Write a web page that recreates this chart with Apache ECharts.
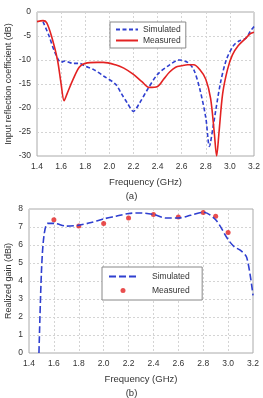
<!DOCTYPE html>
<html>
<head>
<meta charset="utf-8">
<script src="https://cdn.jsdelivr.net/npm/echarts@6/dist/echarts.min.js"></script>
<style>
  html, body { margin: 0; padding: 0; background: #fff; }
  #chart { width: 263px; height: 398px; }
</style>
</head>
<body>
<div id="chart"></div>
<script>
// (a) input reflection coefficient, [GHz, dB]
const s11Simulated = [
  [1.45, -2], [1.5, -5], [1.55, -8.5], [1.6, -10.5], [1.63, -10.2], [1.7, -10.7], [1.75, -10.7],
  [1.8, -11.3], [1.87, -12], [1.95, -13.3], [2.05, -15], [2.1, -17], [2.15, -19], [2.2, -20.7],
  [2.25, -19], [2.32, -16], [2.4, -13], [2.5, -11], [2.58, -10], [2.65, -10.5], [2.7, -12],
  [2.75, -16], [2.8, -22], [2.83, -28], [2.86, -24], [2.92, -15], [2.97, -10], [3.03, -7],
  [3.08, -6], [3.13, -5.5], [3.17, -4], [3.2, -3]
];
const s11Measured = [
  [1.4, -2], [1.45, -1.8], [1.48, -2.2], [1.52, -5], [1.57, -10], [1.6, -15], [1.625, -18.5],
  [1.65, -17], [1.7, -14], [1.75, -11.5], [1.8, -10.7], [1.9, -10.5], [1.95, -10.5], [2.05, -11],
  [2.12, -11.7], [2.2, -13], [2.27, -14.5], [2.33, -15.7], [2.4, -15.5], [2.45, -14], [2.5, -12.5],
  [2.55, -11.5], [2.6, -11.2], [2.65, -11], [2.7, -11], [2.75, -12], [2.8, -14], [2.84, -18],
  [2.87, -25], [2.89, -30], [2.91, -25], [2.94, -17], [2.98, -12], [3.02, -9], [3.07, -7],
  [3.13, -5.5], [3.17, -4.5], [3.2, -4.2]
];
// (b) realized gain, [GHz, dBi]
const gainSimulated = [
  [1.48, 0], [1.5, 4.5], [1.52, 6.5], [1.55, 7.2], [1.6, 7.2], [1.7, 7.05], [1.8, 7.1],
  [1.9, 7.25], [2.0, 7.45], [2.1, 7.6], [2.2, 7.75], [2.3, 7.78], [2.4, 7.7], [2.5, 7.5],
  [2.6, 7.5], [2.7, 7.65], [2.8, 7.82], [2.9, 7.4], [3.0, 6.3], [3.05, 5.9], [3.1, 5.7],
  [3.15, 5.3], [3.2, 3.2]
];
const gainMeasured = [
  [1.6, 7.4], [1.8, 7.05], [2.0, 7.2], [2.2, 7.5], [2.4, 7.7], [2.6, 7.55], [2.8, 7.8],
  [2.9, 7.6], [3.0, 6.7]
];

const font = 'Liberation Sans';
const blue = '#2f3fd0';
const red = '#e32222';
const textColor = '#333';

function xAxis(gridIndex) {
  return {
    type: 'value', gridIndex: gridIndex, min: 1.4, max: 3.2, interval: 0.2,
    name: 'Frequency (GHz)', nameLocation: 'middle', nameGap: 21, nameMoveOverlap: false,
    nameTextStyle: { fontFamily: font, fontSize: 9.5, color: textColor },
    axisLine: { show: false }, axisTick: { show: false },
    axisLabel: { fontFamily: font, fontSize: 8.5, color: textColor, margin: 6,
      formatter: v => v.toFixed(1) },
    splitLine: { lineStyle: { color: '#d4d4d4', type: [2, 2] } }
  };
}

function yAxis(gridIndex, name, min, max, interval, gap) {
  return {
    type: 'value', gridIndex: gridIndex, min: min, max: max, interval: interval,
    name: name, nameLocation: 'middle', nameGap: gap, nameMoveOverlap: false,
    nameTextStyle: { fontFamily: font, fontSize: 9, color: textColor },
    axisLine: { show: false }, axisTick: { show: false },
    axisLabel: { fontFamily: font, fontSize: 8.5, color: textColor, margin: 6 },
    splitLine: { lineStyle: { color: '#d4d4d4', type: [2, 2] } }
  };
}

const hideSymbol = { opacity: 0 };

const chart = echarts.init(document.getElementById('chart'), null, { renderer: 'canvas' });
chart.setOption({
  animation: false,
  grid: [
    { left: 37, right: 9, top: 12, height: 144, show: true, borderColor: '#aaa', borderWidth: 1,
      outerBoundsMode: 'none', containLabel: false },
    { left: 29, right: 10, top: 209, height: 144, show: true, borderColor: '#aaa', borderWidth: 1,
      outerBoundsMode: 'none', containLabel: false }
  ],
  xAxis: [xAxis(0), xAxis(1)],
  yAxis: [
    yAxis(0, 'Input reflection coefficient (dB)', -30, 0, 5, 24),
    yAxis(1, 'Realized gain (dBi)', 0, 8, 1, 16)
  ],
  legend: [
    {
      data: [
        { name: 'Simulated', itemStyle: hideSymbol },
        { name: 'Measured', itemStyle: hideSymbol }
      ],
      orient: 'vertical', left: 110, top: 22,
      itemWidth: 22, itemHeight: 8, itemGap: 2, padding: [3, 5, 3, 5],
      borderColor: '#888', borderWidth: 1, backgroundColor: '#fff', borderRadius: 0,
      textStyle: { fontFamily: font, fontSize: 8.5, color: textColor }
    },
    {
      data: [
        { name: 'Simulated ', itemStyle: hideSymbol },
        { name: 'Measured ', icon: 'circle' }
      ],
      orient: 'vertical', left: 102, top: 267,
      itemWidth: 28, itemHeight: 5, itemGap: 5, padding: [5, 10, 5, 6],
      borderColor: '#888', borderWidth: 1, backgroundColor: '#fff', borderRadius: 0,
      textStyle: { fontFamily: font, fontSize: 8.5, color: textColor, padding: [0, 0, 0, 10] }
    }
  ],
  graphic: [
    { type: 'text', left: 'center', top: 191, style: { text: '(a)', fontFamily: font, fontSize: 9.5, fill: textColor } },
    { type: 'text', left: 'center', top: 388, style: { text: '(b)', fontFamily: font, fontSize: 9.5, fill: textColor } }
  ],
  series: [
    {
      name: 'Simulated', type: 'line', xAxisIndex: 0, yAxisIndex: 0, data: s11Simulated,
      smooth: 0.3, showSymbol: false, symbol: 'none',
      lineStyle: { color: blue, width: 1.6, type: [4, 2.5] }, itemStyle: { color: blue }
    },
    {
      name: 'Measured', type: 'line', xAxisIndex: 0, yAxisIndex: 0, data: s11Measured,
      smooth: 0.3, showSymbol: false, symbol: 'none',
      lineStyle: { color: red, width: 1.6 }, itemStyle: { color: red }
    },
    {
      name: 'Simulated ', type: 'line', xAxisIndex: 1, yAxisIndex: 1, data: gainSimulated,
      smooth: 0.3, showSymbol: false, symbol: 'none',
      lineStyle: { color: blue, width: 1.6, type: [7, 3] }, itemStyle: { color: blue }
    },
    {
      name: 'Measured ', type: 'scatter', xAxisIndex: 1, yAxisIndex: 1, data: gainMeasured,
      symbol: 'circle', symbolSize: 5, itemStyle: { color: red }
    }
  ]
});
</script>
</body>
</html>
